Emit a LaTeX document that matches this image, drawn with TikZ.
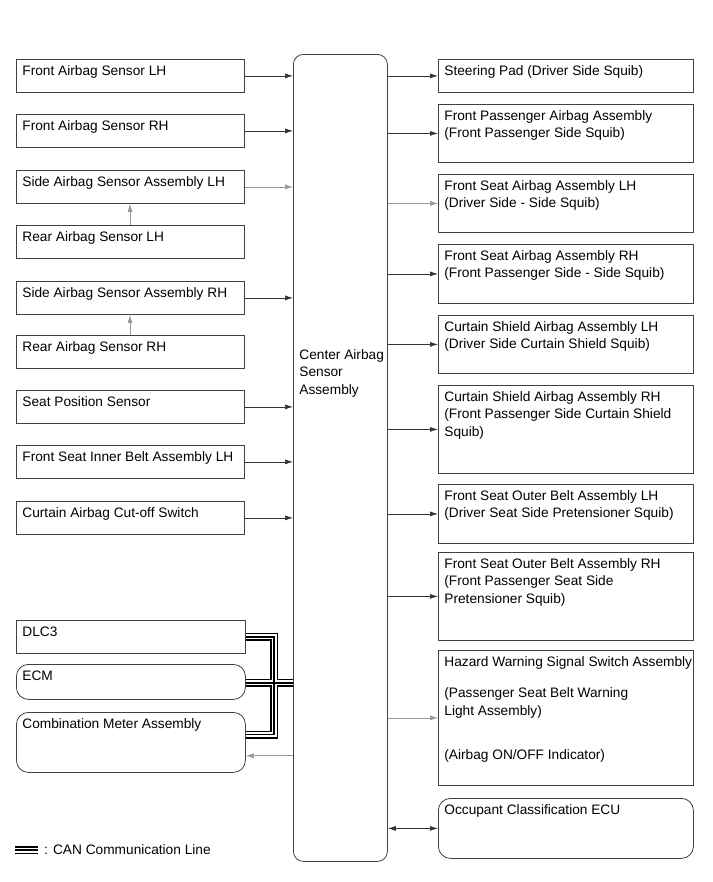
\documentclass[tikz,border=0pt]{standalone}
\usepackage{fontspec}
\setmainfont{Liberation Sans}
\usetikzlibrary{arrows.meta,calc}
\hbadness=10000 \hfuzz=20pt
\newcommand{\bt}[3]{\parbox[t][#1][t]{#2}{\rule{0pt}{14bp}#3}}
\tikzset{
  boxst/.style={draw=black!75, line width=0.8bp, anchor=north west, inner xsep=6bp, inner ysep=2bp, align=left, font=\fontsize{13.7bp}{17.5bp}\selectfont},
  rbox/.style={boxst, rounded corners=12bp},
  arr/.style={draw=black!80, line width=0.7bp, -{Latex[length=8bp,width=5bp]}},
  garr/.style={arr, draw=black!40},
  biarr/.style={draw=black!80, line width=0.7bp, {Latex[length=8bp,width=5bp]}-{Latex[length=8bp,width=5bp]}},
  canA/.style={line width=8bp, draw=black},
  canB/.style={line width=5bp, draw=white},
  canC/.style={line width=1.8bp, draw=black}
}
\begin{document}
\begin{tikzpicture}[x=1bp,y=-1bp]
\useasboundingbox[fill=white] (0,0) rectangle (713,882);
% left boxes (w=228 -> text width 216)
\node[boxst] (fl)  at (16,59)  {\bt{29bp}{216bp}{Front Airbag Sensor LH}};
\node[boxst] (fr)  at (16,114) {\bt{29bp}{216bp}{Front Airbag Sensor RH}};
\node[boxst] (sl)  at (16,170) {\bt{29bp}{216bp}{Side Airbag Sensor Assembly LH}};
\node[boxst] (rl)  at (16,225) {\bt{29bp}{216bp}{Rear Airbag Sensor LH}};
\node[boxst] (sr)  at (16,281) {\bt{29bp}{216bp}{Side Airbag Sensor Assembly RH}};
\node[boxst] (rr)  at (16,335) {\bt{29bp}{216bp}{Rear Airbag Sensor RH}};
\node[boxst] (sp)  at (16,390) {\bt{29bp}{216bp}{Seat Position Sensor}};
\node[boxst] (fib) at (16,445) {\bt{29bp}{216bp}{Front Seat Inner Belt Assembly LH}};
\node[boxst] (cut) at (16,501) {\bt{29bp}{216bp}{Curtain Airbag Cut-off Switch}};
\node[boxst] (dlc) at (16,620) {\bt{29bp}{217bp}{DLC3}};
\node[rbox]  (ecm) at (16,664) {\bt{31bp}{217bp}{ECM}};
\node[rbox]  (cm)  at (16,712) {\bt{56bp}{217bp}{Combination Meter Assembly}};
% center
\node[rbox, rounded corners=10bp] (ctr) at (293,54) {\parbox[t][803bp][t]{82bp}{\vspace*{289bp}\rule{0pt}{14bp}\mbox{Center Airbag}\\Sensor\\Assembly}};
% right boxes (w=255 -> text width 243)
\node[boxst] (sq)  at (438,59)  {\bt{29bp}{243bp}{Steering Pad (Driver Side Squib)}};
\node[boxst] (fp)  at (438,104) {\bt{54bp}{243bp}{Front Passenger Airbag Assembly\\(Front Passenger Side Squib)}};
\node[boxst] (fsl) at (438,174) {\bt{54bp}{243bp}{Front Seat Airbag Assembly LH\\(Driver Side - Side Squib)}};
\node[boxst] (fsr) at (438,244) {\bt{55bp}{243bp}{Front Seat Airbag Assembly RH\\(Front Passenger Side - Side Squib)}};
\node[boxst] (csl) at (438,315) {\bt{54bp}{243bp}{Curtain Shield Airbag Assembly LH\\(Driver Side Curtain Shield Squib)}};
\node[boxst] (csr) at (438,385) {\bt{84bp}{243bp}{Curtain Shield Airbag Assembly RH\\(Front Passenger Side Curtain Shield\\Squib)}};
\node[boxst] (obl) at (438,484) {\bt{55bp}{243bp}{Front Seat Outer Belt Assembly LH\\(Driver Seat Side Pretensioner Squib)}};
\node[boxst] (obr) at (438,552) {\bt{84bp}{243bp}{Front Seat Outer Belt Assembly RH\\(Front Passenger Seat Side\\Pretensioner Squib)}};
\node[boxst] (hz)  at (438,650) {\bt{131bp}{243bp}{\mbox{Hazard Warning Signal Switch Assembly}\\[14bp](Passenger Seat Belt Warning\\Light Assembly)\\[27bp](Airbag ON/OFF Indicator)}};
\node[rbox]  (oc)  at (438,798) {\bt{56bp}{243bp}{Occupant Classification ECU}};
% left arrows
\draw[arr]  (fl.east)  -- (fl.east  -| ctr.west);
\draw[arr]  (fr.east)  -- (fr.east  -| ctr.west);
\draw[garr] (sl.east)  -- (sl.east  -| ctr.west);
\draw[arr]  (sr.east)  -- (sr.east  -| ctr.west);
\draw[arr]  (sp.east)  -- (sp.east  -| ctr.west);
\draw[arr]  (fib.east) -- (fib.east -| ctr.west);
\draw[arr]  (cut.east) -- (cut.east -| ctr.west);
\draw[garr] (rl.north -| 130,0) -- (sl.south -| 130,0);
\draw[garr] (rr.north -| 130,0) -- (sr.south -| 130,0);
% right arrows
\draw[arr]  (ctr.east |- sq.west)  -- (sq.west);
\draw[arr]  (ctr.east |- fp.west)  -- (fp.west);
\draw[garr] (ctr.east |- fsl.west) -- (fsl.west);
\draw[arr]  (ctr.east |- fsr.west) -- (fsr.west);
\draw[arr]  (ctr.east |- csl.west) -- (csl.west);
\draw[arr]  (ctr.east |- csr.west) -- (csr.west);
\draw[arr]  (ctr.east |- obl.west) -- (obl.west);
\draw[arr]  (ctr.east |- obr.west) -- (obr.west);
\draw[garr] (ctr.east |- hz.west)  -- (hz.west);
\draw[biarr] (ctr.east |- oc.west) -- (oc.west);
% arrow to combination meter
\coordinate (cmin) at ($(cm.north east)!0.72!(cm.south east)$);
\draw[garr] (ctr.west |- cmin) -- (cmin);
% CAN lines
\coordinate (cmout) at ($(cm.north east)!0.37!(cm.south east)$);
\coordinate (k1) at (274,0);
\foreach \s in {canA,canB,canC}{
  \draw[\s] (dlc.east) -- (dlc.east -| k1) -- (cmout -| k1) -- (cmout);
  \draw[\s] ([yshift=-1bp]ecm.east) -- ([yshift=-1bp]ecm.east -| ctr.west);
}
% legend
\node[anchor=west, inner sep=0pt, font=\fontsize{13.7bp}{16bp}\selectfont] (leg) at (44,850) {: CAN Communication Line};
\coordinate (lg1) at (15,850);
\coordinate (lg2) at (38,850);
\foreach \s in {canA,canB,canC}{\draw[\s] (lg1) -- (lg2);}
\end{tikzpicture}
\end{document}
